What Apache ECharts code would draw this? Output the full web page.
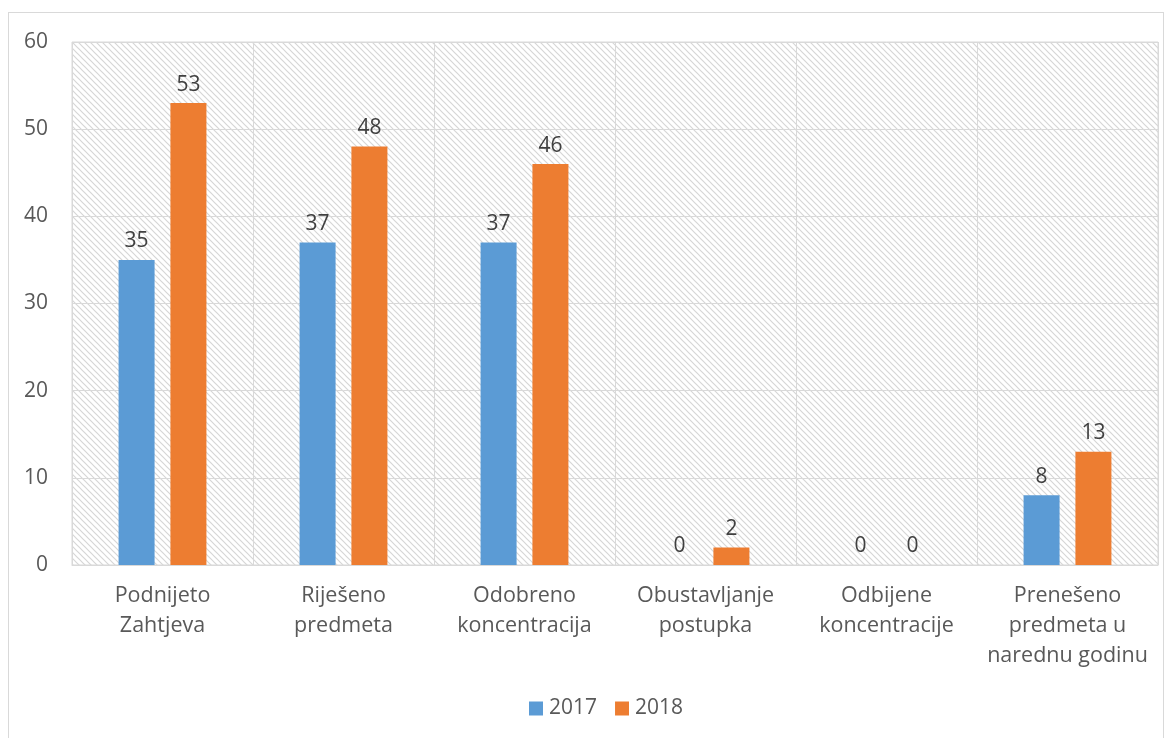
<!DOCTYPE html>
<html><head><meta charset="utf-8">
<script src="https://cdn.jsdelivr.net/npm/echarts@6/dist/echarts.min.js"></script>
<style>
html,body{margin:0;padding:0;background:#fff;}
#frame{position:absolute;left:8px;top:12px;width:1156px;height:730px;border:1px solid #d9d9d9;box-sizing:border-box;}
#c{position:absolute;left:0;top:0;width:1171px;height:738px;}
</style></head>
<body><div id="frame"></div><div id="c"></div>
<script>
const categories = ['Podnijeto\nZahtjeva','Riješeno\npredmeta','Odobreno\nkoncentracija','Obustavljanje\npostupka','Odbijene\nkoncentracije','Prenešeno\npredmeta u\nnarednu godinu'];
const seriesNames = ['2017','2018'];
const values2017 = [35,37,37,0,0,8];
const values2018 = [53,48,46,2,0,13];
const yTicks = {min:0,max:60,interval:10};

const pc = document.createElement('canvas');
pc.width = 6; pc.height = 6;
const ctx = pc.getContext('2d');
ctx.fillStyle = '#ffffff'; ctx.fillRect(0,0,6,6);
ctx.strokeStyle = '#d6d6d6'; ctx.lineWidth = 1.2;
ctx.beginPath();
ctx.moveTo(-1,-1); ctx.lineTo(7,7);
ctx.moveTo(-4,2); ctx.lineTo(4,10);
ctx.moveTo(2,-4); ctx.lineTo(10,4);
ctx.stroke();

const chart = echarts.init(document.getElementById('c'));
const font = '"Open Sans", sans-serif';
const lbl = {show:true,position:'top',distance:8,color:'#404040',fontSize:21,fontFamily:font};
chart.setOption({
  animation:false,
  grid:{left:72,right:13,top:42,bottom:173,show:true,backgroundColor:{image:pc,repeat:'repeat'},borderColor:'#d9d9d9',borderWidth:1},
  legend:{bottom:14,left:524,itemWidth:14,itemHeight:14,itemGap:18,icon:'rect',textStyle:{color:'#595959',fontSize:21,fontFamily:font,padding:[0,0,0,1]},data:seriesNames},
  xAxis:{type:'category',data:categories,
    axisLine:{lineStyle:{color:'#d9d9d9'}},axisTick:{show:false},
    splitLine:{show:true,lineStyle:{color:'#d9d9d9'}},
    axisLabel:{color:'#595959',fontSize:21.5,fontFamily:font,lineHeight:30,margin:16,interval:0}},
  yAxis:{type:'value',min:yTicks.min,max:yTicks.max,interval:yTicks.interval,
    axisLine:{show:false},axisTick:{show:false},
    splitLine:{lineStyle:{color:'#d9d9d9'}},
    axisLabel:{color:'#595959',fontSize:21,fontFamily:font,margin:24}},
  series:[
    {name:seriesNames[0],type:'bar',data:values2017,itemStyle:{color:'#5b9bd5'},barWidth:36,barGap:'44%',label:lbl},
    {name:seriesNames[1],type:'bar',data:values2018,itemStyle:{color:'#ed7d31'},barWidth:36,label:lbl}
  ]
});
</script></body></html>
